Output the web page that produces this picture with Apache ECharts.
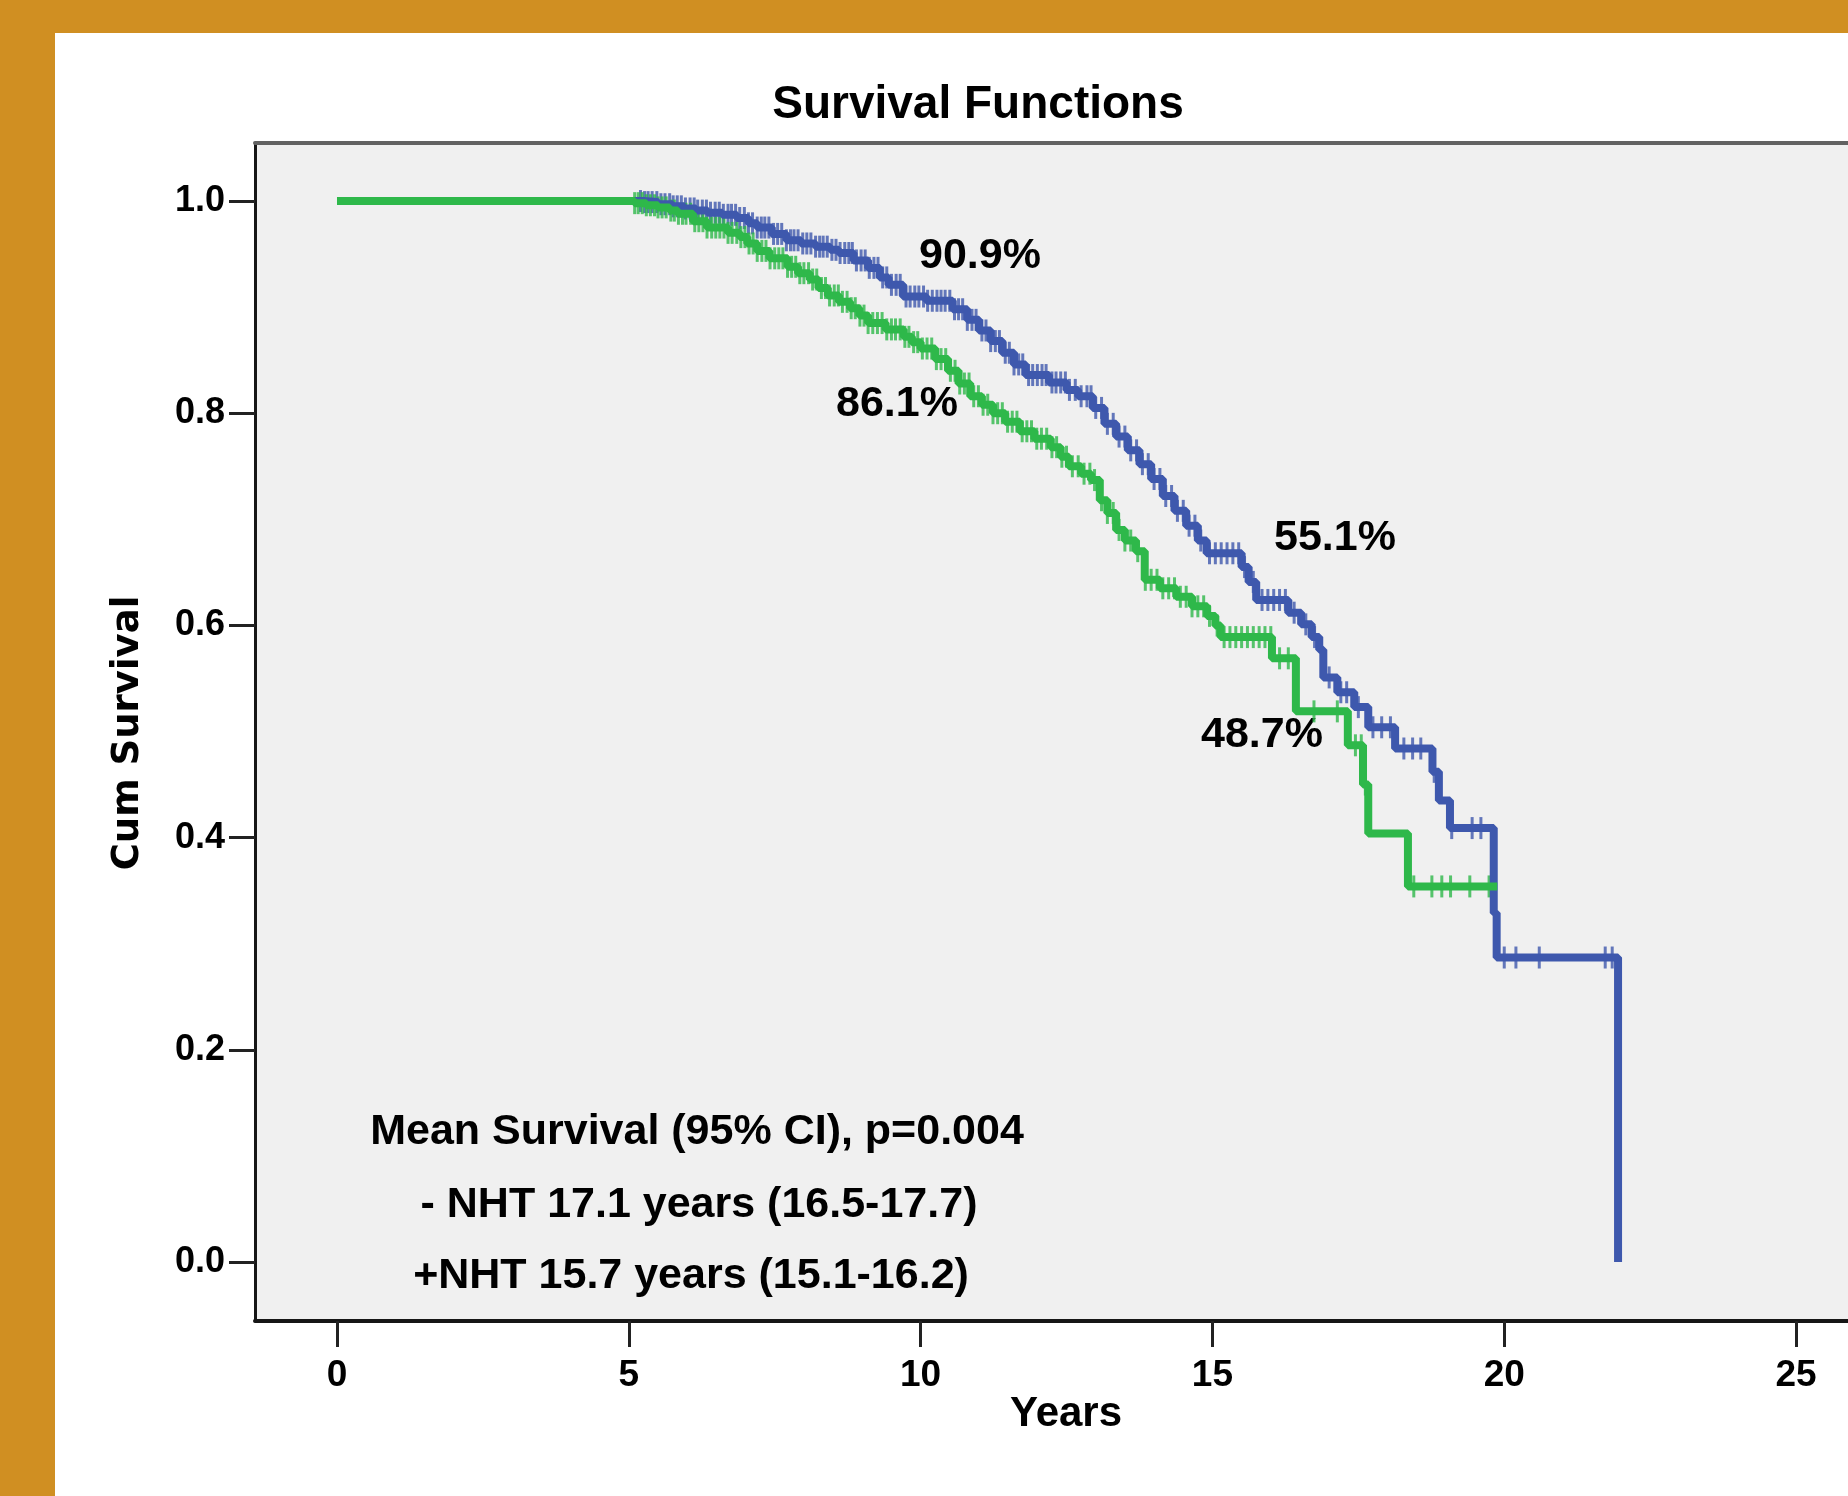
<!DOCTYPE html>
<html>
<head>
<meta charset="utf-8">
<script src="https://cdn.jsdelivr.net/npm/echarts@6/dist/echarts.min.js"></script>
<style>
    html, body { margin: 0; padding: 0; width: 1848px; height: 1496px; background: #d08f22; }
    #panel { position: absolute; left: 55px; top: 33px; right: 0; bottom: 0; background: #fff; }
    #chart { position: absolute; left: 0; top: 0; width: 1848px; height: 1496px; }
</style>
</head>
<body>
<div id="panel"></div>
<div id="chart"></div>
<script>
    // axis ticks
    const xTicks = [0, 5, 10, 15, 20, 25];
    const yTicks = [0, 0.2, 0.4, 0.6, 0.8, 1.0];

    // -NHT (blue): step start times and survival from that time on
    const noNhtTimes = [0, 5.25, 5.5, 5.75, 5.95, 6.15, 6.35, 6.6, 6.85, 7.05, 7.2, 7.45, 7.7, 7.95, 8.2, 8.45, 8.6,
        8.85, 9.1, 9.3, 9.45, 9.7, 10.1, 10.55, 10.8, 11.0, 11.2, 11.4, 11.6, 11.8, 12.2, 12.5, 12.7, 12.95, 13.15,
        13.35, 13.55, 13.75, 13.95, 14.15, 14.35, 14.55, 14.75, 14.9, 15.5, 15.62, 15.75, 16.3, 16.52, 16.7, 16.83,
        16.9, 17.14, 17.43, 17.67, 18.13, 18.77, 18.88, 19.07, 19.82, 19.87, 21.95];
    const noNhtSurv = [1.0, 0.999, 0.997, 0.995, 0.993, 0.991, 0.989, 0.987, 0.984, 0.979, 0.975, 0.969, 0.963, 0.96,
        0.957, 0.954, 0.951, 0.944, 0.937, 0.928, 0.921, 0.91, 0.906, 0.898, 0.888, 0.878, 0.868, 0.857, 0.846, 0.836,
        0.829, 0.822, 0.816, 0.805, 0.79, 0.778, 0.765, 0.752, 0.738, 0.722, 0.708, 0.694, 0.68, 0.668, 0.655, 0.641,
        0.624, 0.612, 0.601, 0.589, 0.577, 0.551, 0.537, 0.523, 0.504, 0.484, 0.462, 0.435, 0.409, 0.329, 0.287, 0.0];
    const noNhtCensored = [5.2, 5.27, 5.33, 5.4, 5.48, 5.55, 5.62, 5.7, 5.76, 5.83, 5.9, 5.97, 6.05, 6.12, 6.18, 6.26,
        6.33, 6.4, 6.48, 6.55, 6.62, 6.7, 6.76, 6.83, 6.9, 6.98, 7.05, 7.12, 7.2, 7.27, 7.33, 7.4, 7.48, 7.55, 7.62,
        7.7, 7.77, 7.83, 7.9, 7.98, 8.05, 8.12, 8.2, 8.27, 8.33, 8.4, 8.48, 8.55, 8.62, 8.7, 8.77, 8.83, 8.9, 8.98,
        9.05, 9.12, 9.2, 9.27, 9.35, 9.42, 9.5, 9.58, 9.65, 9.75, 9.82, 9.9, 9.97, 10.05, 10.12, 10.2, 10.28, 10.35,
        10.42, 10.5, 10.58, 10.65, 10.72, 10.8, 10.88, 10.95, 11.05, 11.12, 11.2, 11.28, 11.35, 11.45, 11.52, 11.6,
        11.68, 11.75, 11.85, 11.92, 12.0, 12.08, 12.15, 12.25, 12.32, 12.4, 12.48, 12.55, 12.65, 12.75, 12.85, 12.92,
        13.0, 13.1, 13.2, 13.3, 13.4, 13.5, 13.6, 13.7, 13.8, 13.9, 14.0, 14.1, 14.2, 14.3, 14.4, 14.5, 14.6, 14.7,
        14.8, 14.95, 15.05, 15.15, 15.25, 15.35, 15.45, 15.55, 15.7, 15.85, 15.95, 16.05, 16.15, 16.25, 16.4, 16.6,
        16.75, 17.0, 17.2, 17.3, 17.5, 17.75, 17.9, 18.05, 18.28, 18.43, 18.57, 18.8, 19.1, 19.45, 19.6, 20.0, 20.2,
        20.6, 21.73, 21.85];

    // +NHT (green)
    const nhtTimes = [0, 5.1, 5.3, 5.5, 5.7, 5.84, 6.1, 6.34, 6.7, 6.9, 7.03, 7.2, 7.41, 7.72, 7.9, 8.1, 8.25, 8.41,
        8.6, 8.79, 8.95, 9.1, 9.4, 9.71, 9.85, 10.0, 10.25, 10.47, 10.65, 10.85, 11.05, 11.24, 11.45, 11.7, 11.95,
        12.23, 12.4, 12.54, 12.75, 12.92, 13.07, 13.2, 13.35, 13.5, 13.69, 13.84, 14.1, 14.38, 14.65, 14.91, 15.05,
        15.14, 16.02, 16.43, 17.32, 17.58, 17.67, 18.35, 19.88];
    const nhtSurv = [1.0, 0.998, 0.996, 0.994, 0.991, 0.988, 0.981, 0.975, 0.97, 0.966, 0.96, 0.953, 0.946, 0.938,
        0.932, 0.926, 0.918, 0.911, 0.905, 0.899, 0.892, 0.885, 0.879, 0.872, 0.867, 0.861, 0.851, 0.84, 0.828, 0.816,
        0.808, 0.80, 0.792, 0.783, 0.776, 0.768, 0.759, 0.75, 0.743, 0.737, 0.718, 0.706, 0.69, 0.68, 0.67, 0.643,
        0.635, 0.627, 0.618, 0.609, 0.6, 0.589, 0.569, 0.519, 0.487, 0.45, 0.404, 0.354, 0.354];
    const nhtCensored = [5.1, 5.16, 5.23, 5.3, 5.37, 5.44, 5.5, 5.57, 5.64, 5.72, 5.78, 5.85, 5.92, 5.98, 6.06, 6.13,
        6.2, 6.27, 6.34, 6.42, 6.49, 6.56, 6.63, 6.7, 6.77, 6.85, 6.92, 6.99, 7.06, 7.13, 7.2, 7.28, 7.35, 7.42, 7.5,
        7.57, 7.64, 7.72, 7.79, 7.86, 7.93, 8.0, 8.08, 8.15, 8.22, 8.3, 8.37, 8.44, 8.52, 8.59, 8.66, 8.74, 8.81, 8.88,
        8.96, 9.03, 9.1, 9.18, 9.26, 9.34, 9.42, 9.5, 9.57, 9.65, 9.73, 9.8, 9.88, 9.95, 10.03, 10.11, 10.19, 10.27,
        10.35, 10.43, 10.51, 10.59, 10.67, 10.75, 10.83, 10.91, 10.99, 11.07, 11.15, 11.24, 11.32, 11.4, 11.49, 11.57,
        11.65, 11.74, 11.82, 11.9, 11.99, 12.07, 12.16, 12.25, 12.33, 12.42, 12.5, 12.6, 12.7, 12.8, 12.9, 12.98,
        13.1, 13.2, 13.3, 13.4, 13.5, 13.6, 13.72, 13.85, 13.95, 14.05, 14.15, 14.25, 14.35, 14.45, 14.55, 14.65,
        14.75, 14.85, 14.95, 15.08, 15.2, 15.3, 15.4, 15.5, 15.6, 15.7, 15.8, 15.9, 16.0, 16.15, 16.3, 16.74, 17.14,
        17.45, 17.55, 17.62, 18.45, 18.76, 18.93, 19.08, 19.41, 19.74];

    const pctLabels = ['90.9%', '86.1%', '55.1%', '48.7%'];
    const statLines = ['Mean Survival (95% CI), p=0.004', '- NHT 17.1 years (16.5-17.7)', '+NHT 15.7 years (15.1-16.2)'];

    const BLUE = '#3e58ad';
    const GREEN = '#2eb84a';
    const FONT = '"Liberation Sans", Arial, sans-serif';

    function survAt(times, surv, t) {
        let s = surv[0];
        for (let i = 0; i < times.length; i++) {
            if (times[i] <= t) s = surv[i];
        }
        return s;
    }

    function curve(times, surv) {
        return times.map(function (t, i) { return [t, surv[i]]; });
    }

    function censorPoints(cens, times, surv) {
        return cens.map(function (t) { return [t, survAt(times, surv, t)]; });
    }

    function txt(text, x, y, size, family, extra) {
        return Object.assign({
            type: 'text', x: x, y: y, silent: true,
            style: {
                text: text, fill: '#000', align: 'center', verticalAlign: 'middle',
                font: 'bold ' + size + 'px ' + (family || FONT)
            }
        }, extra || {});
    }

    let chart = echarts.init(document.getElementById('chart'), null, {renderer: 'canvas'});

    let option = {
        animation: false,
        backgroundColor: 'transparent',
        grid: {
            left: 255, top: 143, bottom: 175, right: 0,
            show: true, backgroundColor: '#f0f0f0', borderWidth: 0
        },
        xAxis: [
            {
                type: 'value', min: -1.405, max: 25.89,
                axisLine: {show: true, onZero: false, lineStyle: {color: '#161616', width: 4}},
                axisTick: {show: true, customValues: xTicks, length: 26, lineStyle: {color: '#222', width: 3}},
                axisLabel: {
                    customValues: xTicks, margin: 36, color: '#000',
                    fontFamily: FONT, fontWeight: 'bold', fontSize: 37
                },
                splitLine: {show: false}
            },
            {
                // top frame line of the plot box
                type: 'value', position: 'top', min: -1.405, max: 25.89,
                axisLine: {show: true, onZero: false, lineStyle: {color: '#626262', width: 4}},
                axisTick: {show: false}, axisLabel: {show: false}, splitLine: {show: false}
            }
        ],
        yAxis: {
            type: 'value', min: -0.0556, max: 1.0547,
            axisLine: {show: true, onZero: false, lineStyle: {color: '#161616', width: 3}},
            axisTick: {show: true, customValues: yTicks, length: 26, lineStyle: {color: '#222', width: 3}},
            axisLabel: {
                customValues: yTicks, margin: 30, color: '#000',
                fontFamily: FONT, fontWeight: 'bold', fontSize: 36,
                formatter: function (v) { return v.toFixed(1); }
            },
            splitLine: {show: false}
        },
        series: [
            {
                name: '-NHT', type: 'line', step: 'end', showSymbol: false, silent: true,
                data: curve(noNhtTimes, noNhtSurv),
                lineStyle: {color: BLUE, width: 8}
            },
            {
                name: '-NHT censored', type: 'scatter', silent: true,
                symbol: 'rect', symbolSize: [3, 22],
                itemStyle: {color: BLUE},
                data: censorPoints(noNhtCensored, noNhtTimes, noNhtSurv)
            },
            {
                name: '+NHT', type: 'line', step: 'end', showSymbol: false, silent: true,
                data: curve(nhtTimes, nhtSurv),
                lineStyle: {color: GREEN, width: 8}
            },
            {
                name: '+NHT censored', type: 'scatter', silent: true,
                symbol: 'rect', symbolSize: [3, 22],
                itemStyle: {color: GREEN},
                data: censorPoints(nhtCensored, nhtTimes, nhtSurv)
            }
        ],
        graphic: [
            txt('Survival Functions', 978, 105, 46),
            txt('Cum Survival', 128, 733, 37, '"DejaVu Sans", Verdana, sans-serif', {rotation: Math.PI / 2}),
            txt('Years', 1066, 1414, 42),
            txt(pctLabels[0], 980, 256, 43),
            txt(pctLabels[1], 897, 404, 43),
            txt(pctLabels[2], 1335, 538, 43),
            txt(pctLabels[3], 1262, 735, 43),
            txt(statLines[0], 697, 1132, 43),
            txt(statLines[1], 699, 1205, 43),
            txt(statLines[2], 691, 1276, 43)
        ]
    };

    chart.setOption(option);

    window.addEventListener('resize', function () {
        chart.resize();
    });
</script>
</body>
</html>
